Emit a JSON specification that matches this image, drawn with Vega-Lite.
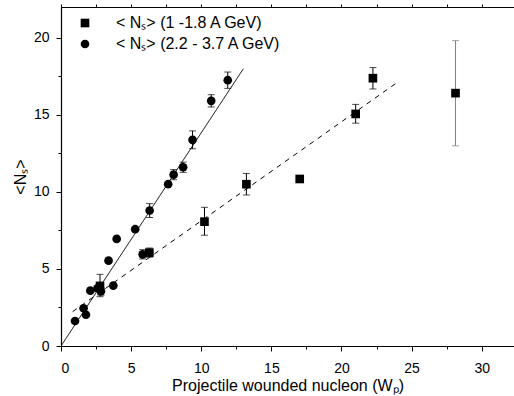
{
  "$schema": "https://vega.github.io/schema/vega-lite/v6.json",
  "width": 453,
  "height": 339,
  "autosize": {"type": "none"},
  "padding": {"left": 61, "top": 7, "right": 0, "bottom": 50},
  "background": "white",
  "config": {
    "view": {"stroke": null},
    "font": "Liberation Sans",
    "axis": {"grid": false, "domainColor": "black", "tickColor": "black", "labelColor": "black", "titleColor": "black", "labelFont": "Liberation Sans", "titleFont": "Liberation Sans", "labelFontSize": 14, "titleFontSize": 16, "titleFontWeight": "normal"}
  },
  "datasets": {
    "pts": [
      {"series": "< Nₛ> (2.2 - 3.7 A GeV)", "x": 1.0, "y": 1.62, "lo": 1.62, "hi": 1.62},
      {"series": "< Nₛ> (2.2 - 3.7 A GeV)", "x": 1.61, "y": 2.45, "lo": 2.45, "hi": 2.45},
      {"series": "< Nₛ> (2.2 - 3.7 A GeV)", "x": 1.78, "y": 2.03, "lo": 2.03, "hi": 2.03},
      {"series": "< Nₛ> (2.2 - 3.7 A GeV)", "x": 2.09, "y": 3.59, "lo": 3.59, "hi": 3.59},
      {"series": "< Nₛ> (2.2 - 3.7 A GeV)", "x": 2.6, "y": 3.75, "lo": 3.75, "hi": 3.75},
      {"series": "< Nₛ> (2.2 - 3.7 A GeV)", "x": 2.85, "y": 3.55, "lo": 3.3, "hi": 3.8},
      {"series": "< Nₛ> (2.2 - 3.7 A GeV)", "x": 3.39, "y": 5.54, "lo": 5.54, "hi": 5.54},
      {"series": "< Nₛ> (2.2 - 3.7 A GeV)", "x": 3.73, "y": 3.92, "lo": 3.92, "hi": 3.92},
      {"series": "< Nₛ> (2.2 - 3.7 A GeV)", "x": 3.97, "y": 6.95, "lo": 6.95, "hi": 6.95},
      {"series": "< Nₛ> (2.2 - 3.7 A GeV)", "x": 5.29, "y": 7.58, "lo": 7.58, "hi": 7.58},
      {"series": "< Nₛ> (2.2 - 3.7 A GeV)", "x": 5.82, "y": 5.95, "lo": 5.65, "hi": 6.25},
      {"series": "< Nₛ> (2.2 - 3.7 A GeV)", "x": 6.32, "y": 8.79, "lo": 8.34, "hi": 9.24},
      {"series": "< Nₛ> (2.2 - 3.7 A GeV)", "x": 7.64, "y": 10.5, "lo": 10.5, "hi": 10.5},
      {"series": "< Nₛ> (2.2 - 3.7 A GeV)", "x": 8.03, "y": 11.12, "lo": 10.79, "hi": 11.45},
      {"series": "< Nₛ> (2.2 - 3.7 A GeV)", "x": 8.71, "y": 11.6, "lo": 11.27, "hi": 11.93},
      {"series": "< Nₛ> (2.2 - 3.7 A GeV)", "x": 9.38, "y": 13.38, "lo": 12.8, "hi": 13.96},
      {"series": "< Nₛ> (2.2 - 3.7 A GeV)", "x": 10.71, "y": 15.91, "lo": 15.51, "hi": 16.31},
      {"series": "< Nₛ> (2.2 - 3.7 A GeV)", "x": 11.89, "y": 17.25, "lo": 16.72, "hi": 17.78},
      {"series": "< Nₛ> (1 -1.8 A GeV)", "x": 2.78, "y": 3.9, "lo": 3.2, "hi": 4.65},
      {"series": "< Nₛ> (1 -1.8 A GeV)", "x": 6.3, "y": 6.06, "lo": 5.76, "hi": 6.36},
      {"series": "< Nₛ> (1 -1.8 A GeV)", "x": 10.23, "y": 8.07, "lo": 7.19, "hi": 9.0},
      {"series": "< Nₛ> (1 -1.8 A GeV)", "x": 13.22, "y": 10.5, "lo": 9.8, "hi": 11.2},
      {"series": "< Nₛ> (1 -1.8 A GeV)", "x": 17.02, "y": 10.84, "lo": 10.84, "hi": 10.84},
      {"series": "< Nₛ> (1 -1.8 A GeV)", "x": 21.01, "y": 15.06, "lo": 14.46, "hi": 15.68},
      {"series": "< Nₛ> (1 -1.8 A GeV)", "x": 22.24, "y": 17.38, "lo": 16.68, "hi": 18.07},
      {"series": "< Nₛ> (1 -1.8 A GeV)", "x": 28.13, "y": 16.41, "lo": 12.99, "hi": 19.82}
    ],
    "fits": [
      {"fit": "solid", "x": 0, "y": 0},
      {"fit": "solid", "x": 13.0, "y": 17.99},
      {"fit": "dashed", "x": 0.83, "y": 2.23},
      {"fit": "dashed", "x": 24.03, "y": 17.14}
    ]
  },
  "resolve": {"axis": {"x": "independent"}},
  "layer": [
    {
      "data": {"name": "fits"},
      "mark": {"type": "line", "color": "black", "strokeWidth": 1, "clip": true},
      "encoding": {
        "x": {"field": "x", "type": "quantitative", "scale": {"domain": [0, 32.3], "nice": false, "zero": false},
          "axis": {"orient": "top", "values": [0, 2.5, 5, 7.5, 10, 12.5, 15, 17.5, 20, 22.5, 25, 27.5, 30, 32.5], "labels": false, "title": null, "tickSize": 3, "domainWidth": 1.2}},
        "y": {"field": "y", "type": "quantitative", "scale": {"domain": [0, 22], "nice": false},
          "axis": {"title": "<Nₛ>", "values": [0, 2.5, 5, 7.5, 10, 12.5, 15, 17.5, 20], "labelExpr": "datum.value % 5 === 0 ? datum.label : ''", "tickSize": {"condition": {"test": "datum.value % 5 === 0", "value": 5}, "value": 3}, "labelPadding": 7, "titlePadding": 5, "domainWidth": 1.2}},
        "detail": {"field": "fit"},
        "strokeDash": {"field": "fit", "type": "nominal", "scale": {"domain": ["solid", "dashed"], "range": [[1, 0], [5, 5]]}, "legend": null}
      }
    },
    {
      "data": {"name": "pts"},
      "mark": {"type": "rule", "strokeWidth": 1},
      "encoding": {
        "x": {"field": "x", "type": "quantitative",
          "axis": {"orient": "bottom", "title": "Projectile wounded nucleon (Wₚ)", "values": [0, 2.5, 5, 7.5, 10, 12.5, 15, 17.5, 20, 22.5, 25, 27.5, 30, 32.5], "labelExpr": "datum.value % 5 === 0 ? datum.label : ''", "tickSize": {"condition": {"test": "datum.value % 5 === 0", "value": 5}, "value": 3}, "labelPadding": 10, "titlePadding": 2, "domainWidth": 1.2}},
        "y": {"field": "lo", "type": "quantitative"},
        "y2": {"field": "hi"},
        "color": {"condition": {"test": "datum.x > 25", "value": "#808080"}, "value": "black"}
      }
    },
    {
      "data": {"name": "pts"},
      "transform": [{"filter": "datum.hi > datum.lo"}],
      "mark": {"type": "tick", "orient": "horizontal", "size": 7, "thickness": 1},
      "encoding": {
        "x": {"field": "x", "type": "quantitative", "axis": null},
        "y": {"field": "hi", "type": "quantitative"},
        "color": {"condition": {"test": "datum.x > 25", "value": "#808080"}, "value": "black"}
      }
    },
    {
      "data": {"name": "pts"},
      "transform": [{"filter": "datum.hi > datum.lo"}],
      "mark": {"type": "tick", "orient": "horizontal", "size": 7, "thickness": 1},
      "encoding": {
        "x": {"field": "x", "type": "quantitative", "axis": null},
        "y": {"field": "lo", "type": "quantitative"},
        "color": {"condition": {"test": "datum.x > 25", "value": "#808080"}, "value": "black"}
      }
    },
    {
      "data": {"name": "pts"},
      "mark": {"type": "point", "filled": true, "opacity": 1, "color": "black", "size": 75},
      "encoding": {
        "x": {"field": "x", "type": "quantitative", "axis": null},
        "y": {"field": "y", "type": "quantitative"},
        "shape": {"field": "series", "type": "nominal",
          "scale": {"domain": ["< Nₛ> (1 -1.8 A GeV)", "< Nₛ> (2.2 - 3.7 A GeV)"], "range": ["square", "circle"]},
          "legend": {"title": null, "orient": "none", "legendX": 16, "legendY": 8, "padding": 0, "labelFontSize": 16, "labelLimit": 400, "labelFont": "Liberation Sans", "labelColor": "black", "symbolSize": 75, "symbolFillColor": "black", "symbolStrokeColor": "black", "labelOffset": 23, "rowPadding": 5}}
      }
    }
  ]
}
